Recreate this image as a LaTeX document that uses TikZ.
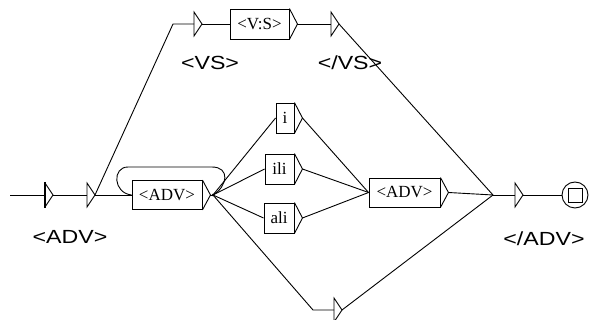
\documentclass[tikz,border=0pt]{standalone}
\usepackage{fontspec}
\usepackage{graphicx}
\newfontfamily\boxfont{Liberation Serif}
\newfontfamily\outfont{Liberation Sans}
\begin{document}
\begin{tikzpicture}[x=1pt,y=-1pt,
  wire/.style={line width=0.9pt},
  lbox/.style={draw,line width=0.9pt,rectangle,inner sep=0pt,minimum height=29pt,
    font=\boxfont\fontsize{17}{17}\selectfont},
  outlabel/.style={inner sep=0pt,font=\outfont\fontsize{19}{19}\selectfont},
  etri/.pic={\draw[line width=0.9pt,line join=miter] (0,-12) -- (0,12) -- (8,0) -- cycle;},
  itri/.pic={\draw[line width=0.9pt] (0,-12) -- (8,0) -- (0,12);
             \draw[line width=2.2pt] (0,-13) -- (0,13);},
  boxtip/.style={line width=0.9pt}
]
\useasboundingbox (0,0) rectangle (589,320);
\clip (0,0) rectangle (589,320);

% states and junctions
\coordinate (start) at (10,195);
\coordinate (init) at (45,195);   \coordinate (inito) at (53,195);
\coordinate (e1) at (87,195);     \coordinate (e1o) at (95,195);
\coordinate (vsbend) at (173,24);
\coordinate (e2) at (194,24);     \coordinate (e2o) at (202,24);
\coordinate (e3) at (331,24);     \coordinate (e3o) at (339,24);
\coordinate (hub) at (213,195);
\coordinate (lowbend) at (313,310);
\coordinate (e4) at (334,310);    \coordinate (e4o) at (342,310);
\coordinate (join) at (493,195);
\coordinate (e5) at (515,195);    \coordinate (e5o) at (523,195);

% boxes
\node[lbox,minimum width=70pt] (a1) at (167,195) {<ADV>};
\node[lbox,minimum width=59pt,minimum height=30pt] (vs) at (259.5,24) {<V:S>};
\node[lbox,minimum width=18pt,minimum height=30pt] (bi) at (285,118) {i};
\node[lbox,minimum width=29pt,minimum height=30pt] (bili) at (279.5,169) {ili};
\node[lbox,minimum width=30pt,minimum height=30pt] (bali) at (279,218) {ali};
\node[lbox,minimum width=71pt] (a2) at (404.5,192.5) {<ADV>};

% output arrows on the right of each box
\foreach \b in {a1,vs,bi,bili,bali,a2}{
  \coordinate (\b t) at ([xshift=8pt]\b.east);
  \draw[boxtip] (\b.north east) -- (\b t) -- (\b.south east);
}

% empty transitions
\pic at (init) {itri};
\pic at (e1) {etri};
\pic at (e2) {etri};
\pic at (e3) {etri};
\pic at (e4) {etri};
\pic at (e5) {etri};

% final state
\node[circle,draw,line width=0.9pt,minimum size=26pt,inner sep=0pt] (fin) at (575,195) {};
\node[draw,line width=0.9pt,minimum size=14pt,inner sep=0pt] (finsq) at (fin.center) {};

% outputs
\node[outlabel] (o1) at (70,237) {\scalebox{1.22}[1]{<ADV>}};
\node[outlabel] (o2) at (210,63) {\scalebox{1.22}[1]{<VS>}};
\node[outlabel] (o3) at (350,63) {\scalebox{1.22}[1]{</VS>}};
\node[outlabel] (o4) at (544,239) {\scalebox{1.22}[1]{</ADV>}};

% transitions
\draw[wire] (start) -- (init);
\draw[wire] (inito) -- (e1);
\draw[wire] (e1o) -- (a1.west);
\draw[wire] (e1o) -- (vsbend) -- (e2);
\draw[wire] (e2o) -- (vs.west);
\draw[wire] (vst) -- (e3);
\draw[wire] (e3o) -- (join);
\draw[wire] (a1t) -- (hub);
\draw[wire] (hub) .. controls (228,186) and (230,167) .. (212,167) -- (128,167)
  .. controls (112,167) and (113,193) .. (a1.west);
\draw[wire] (hub) -- (bi.west);
\draw[wire] (hub) -- (bili.west);
\draw[wire] (hub) -- (bali.west);
\draw[wire] (hub) -- (lowbend) -- (e4);
\draw[wire] (bit) -- (a2.west);
\draw[wire] (bilit) -- (a2.west);
\draw[wire] (balit) -- (a2.west);
\draw[wire] (a2t) -- (join);
\draw[wire] (e4o) -- (join);
\draw[wire] (join) -- (e5);
\draw[wire] (e5o) -- (fin.west);
\fill (hub) circle (1.4pt);
\end{tikzpicture}
\end{document}
